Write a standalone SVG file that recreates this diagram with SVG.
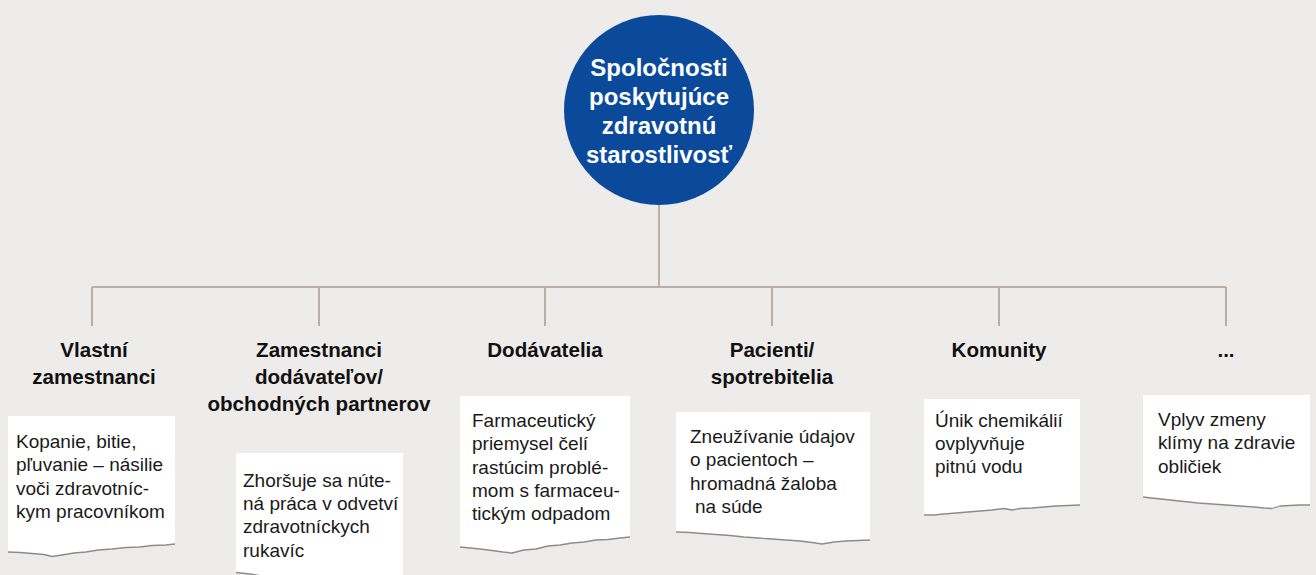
<svg xmlns="http://www.w3.org/2000/svg" width="1316" height="575" viewBox="0 0 1316 575">
<style>
.bg{fill:#eeecea}
.conn{stroke:#b8afa9;stroke-width:2;fill:none}
.card{fill:#ffffff}
.tear{fill:none;stroke:#8c8c8c;stroke-width:1.3;stroke-linejoin:round}
.hd{font-family:"Liberation Sans",Arial,sans-serif;font-weight:bold;font-size:20.6px;fill:#111;text-anchor:middle}
.bd{font-family:"Liberation Sans",Arial,sans-serif;font-size:19px;fill:#1a1a1a}
.ct{font-family:"Liberation Sans",Arial,sans-serif;font-weight:bold;font-size:24px;fill:#ffffff;text-anchor:middle}
</style>
<rect class="bg" x="0" y="0" width="1316" height="575"/>
<g id="connectors">
<path class="conn" d="M659,205 V287 M92,287 H1226 M92,287 V326 M319,287 V326 M545,287 V326 M772,287 V326 M999,287 V326 M1226,287 V326"/>
</g>
<g id="root">
<circle cx="659" cy="110" r="95" fill="#0b4a9b"/>
<text class="ct" x="659" y="76">Spoločnosti</text>
<text class="ct" x="659" y="105">poskytujúce</text>
<text class="ct" x="659" y="134">zdravotnú</text>
<text class="ct" x="659" y="163">starostlivosť</text>
</g>
<g id="n1">
<text class="hd" x="94" y="357">Vlastní</text>
<text class="hd" x="94" y="384">zamestnanci</text>
<path class="card" d="M8,416 H175 V544 L166,545 L152,545.5 L140,547 L126,547.5 L112,549 L98,550 L86,552 L74,553 L62,555 L52,556.5 L44,554.5 L32,553.5 L20,552.5 L8,552 Z"/>
<path class="tear" d="M175,544 L166,545 L152,545.5 L140,547 L126,547.5 L112,549 L98,550 L86,552 L74,553 L62,555 L52,556.5 L44,554.5 L32,553.5 L20,552.5 L8,552"/>
<text class="bd" x="16" y="448">Kopanie, bitie,</text>
<text class="bd" x="16" y="471">pľuvanie – násilie</text>
<text class="bd" x="16" y="495">voči zdravotníc-</text>
<text class="bd" x="16" y="518">kym pracovníkom</text>
</g>
<g id="n2">
<text class="hd" x="319" y="357">Zamestnanci</text>
<text class="hd" x="319" y="384">dodávateľov/</text>
<text class="hd" x="319" y="411">obchodných partnerov</text>
<path class="card" d="M236,453 H403 V585 L270,585 L262,576 L250,574 L236,572.5 Z"/>
<path class="tear" d="M270,580 L262,576 L250,574 L236,572.5"/>
<text class="bd" x="243" y="487">Zhoršuje sa núte-</text>
<text class="bd" x="243" y="510">ná práca v odvetví</text>
<text class="bd" x="243" y="533">zdravotníckych</text>
<text class="bd" x="243" y="557">rukavíc</text>
</g>
<g id="n3">
<text class="hd" x="545" y="357">Dodávatelia</text>
<path class="card" d="M460,396 H630 V537 L620,538 L608,539.5 L596,540 L584,542 L572,543 L560,545 L548,546 L536,549 L524,550 L512,553 L503,552 L492,550.5 L480,549 L470,548 L460,547 Z"/>
<path class="tear" d="M630,537 L620,538 L608,539.5 L596,540 L584,542 L572,543 L560,545 L548,546 L536,549 L524,550 L512,553 L503,552 L492,550.5 L480,549 L470,548 L460,547"/>
<text class="bd" x="472" y="427">Farmaceutický</text>
<text class="bd" x="472" y="450">priemysel čelí</text>
<text class="bd" x="472" y="474">rastúcim problé-</text>
<text class="bd" x="472" y="497">mom s farmaceu-</text>
<text class="bd" x="472" y="520">tickým odpadom</text>
</g>
<g id="n4">
<text class="hd" x="772" y="357">Pacienti/</text>
<text class="hd" x="772" y="384">spotrebitelia</text>
<path class="card" d="M676,412 H870 V540 L858,540.5 L846,541 L834,542 L822,544 L812,542.5 L800,541 L786,540 L772,539 L758,538 L744,537 L730,535.5 L716,534.5 L702,533.5 L690,532.5 L676,532 Z"/>
<path class="tear" d="M870,540 L858,540.5 L846,541 L834,542 L822,544 L812,542.5 L800,541 L786,540 L772,539 L758,538 L744,537 L730,535.5 L716,534.5 L702,533.5 L690,532.5 L676,532"/>
<text class="bd" x="690" y="443">Zneužívanie údajov</text>
<text class="bd" x="690" y="466">o pacientoch –</text>
<text class="bd" x="690" y="490">hromadná žaloba</text>
<text class="bd" x="695" y="513">na súde</text>
</g>
<g id="n5">
<text class="hd" x="999" y="357">Komunity</text>
<path class="card" d="M924,399 H1080 V505 L1068,505.5 L1056,506 L1044,507 L1032,508 L1020,508.5 L1012,510 L1004,508.5 L992,510 L980,511 L968,512 L956,513 L944,514 L934,515 L924,515 Z"/>
<path class="tear" d="M1080,505 L1068,505.5 L1056,506 L1044,507 L1032,508 L1020,508.5 L1012,510 L1004,508.5 L992,510 L980,511 L968,512 L956,513 L944,514 L934,515 L924,515"/>
<text class="bd" x="935" y="427">Únik chemikálií</text>
<text class="bd" x="935" y="450">ovplyvňuje</text>
<text class="bd" x="935" y="473">pitnú vodu</text>
</g>
<g id="n6">
<text class="hd" x="1226" y="357">...</text>
<path class="card" d="M1143,395 H1310 V505 L1300,505 L1290,505.5 L1280,506 L1272,508.5 L1264,508 L1254,507 L1240,506 L1226,505 L1212,504 L1198,503 L1184,501.5 L1170,500 L1156,498.5 L1143,497 Z"/>
<path class="tear" d="M1310,505 L1300,505 L1290,505.5 L1280,506 L1272,508.5 L1264,508 L1254,507 L1240,506 L1226,505 L1212,504 L1198,503 L1184,501.5 L1170,500 L1156,498.5 L1143,497"/>
<text class="bd" x="1158" y="426">Vplyv zmeny</text>
<text class="bd" x="1158" y="449">klímy na zdravie</text>
<text class="bd" x="1158" y="473">obličiek</text>
</g>
</svg>
